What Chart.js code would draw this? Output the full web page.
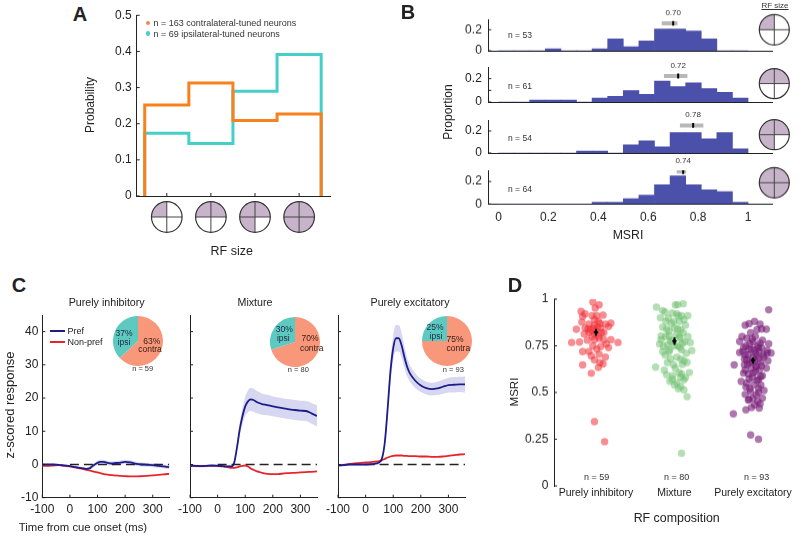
<!DOCTYPE html>
<html>
<head>
<meta charset="utf-8">
<title>RF size and MSRI</title>
<script src="https://cdn.jsdelivr.net/npm/chart.js@4.4.1/dist/chart.umd.min.js"></script>
<style>
  body { margin: 0; width: 800px; height: 536px; position: relative; overflow: hidden; background: #fff;
         font-family: "Liberation Sans", Arial, sans-serif; color: #222; }
  canvas { position: absolute; z-index: 1; }
  .t { position: absolute; white-space: nowrap; line-height: 1; z-index: 5; }
  .mk { position: absolute; z-index: 5; }
</style>
</head>
<body>
<script>
// ---- panel A: RF size histogram
const rfQuads = [[1,0,0,0], [1,1,0,0], [1,1,1,0], [1,1,1,1]]; // TL, TR, BL, BR
const contraCounts = [41, 51, 34, 37];
const ipsiCounts = [12, 10, 20, 27];
const contraN = 163, ipsiN = 69;
const aTicksY = [0, 0.1, 0.2, 0.3, 0.4, 0.5];

// ---- panel B: MSRI histograms per RF size (bins of 1/16)
const bN = [53, 61, 54, 64];
const bCounts1 = [0,0,0,1,0,0,1,6,2,5,11,11,10,6,0,0];
const bCounts2 = [0,0,1,1,1,0,2,3,6,4,11,8,10,7,5,2];
const bCounts3 = [0,0,0,0,0,1,1,0,4,6,3,10,10,7,10,2];
const bCounts4 = [0,0,0,0,0,0,1,1,3,5,11,16,11,8,7,1];
const bMedian = [0.70, 0.72, 0.78, 0.74];
const bCiLo = [0.654, 0.663, 0.727, 0.714];
const bCiHi = [0.717, 0.757, 0.821, 0.752];
const bTicksX = [0, 0.2, 0.4, 0.6, 0.8, 1];

// ---- panel C: z-scored responses
const cTime = [-100,-80,-60,-40,-20,0,20,40,50,60,70,80,90,100,110,120,130,140,150,160,180,200,220,240,260,280,300,320,340,360];
const inhPref = [0,0,0,-0.1,-0.3,-0.5,-0.8,-1.1,-1.2,-1.3,-1.2,-0.6,0,0.5,0.8,0.8,0.6,0.4,0.3,0.4,0.5,0.8,0.6,0.2,0,-0.1,-0.2,-0.4,-0.6,-0.8];
const inhSem  = [0.3,0.3,0.3,0.3,0.3,0.3,0.3,0.4,0.4,0.4,0.5,0.5,0.6,0.6,0.6,0.6,0.6,0.6,0.6,0.6,0.6,0.6,0.6,0.6,0.6,0.6,0.6,0.6,0.6,0.6];
const inhNon  = [-0.4,-0.4,-0.3,-0.2,-0.4,-0.6,-0.9,-1.2,-1.4,-1.6,-1.8,-2.0,-2.2,-2.4,-2.6,-2.8,-3.0,-3.1,-3.2,-3.3,-3.4,-3.5,-3.6,-3.6,-3.5,-3.4,-3.3,-3.1,-3.0,-2.8];
const mixPref = [-0.3,-0.4,-0.5,-0.4,-0.3,-0.4,-0.5,-0.6,-0.6,0.5,5,10.5,14.5,17.5,19,19.6,19.4,18.9,18.5,18.2,17.9,17.5,17.2,16.9,16.6,16.4,16.2,16.1,15.4,14.6];
const mixSem  = [0.4,0.4,0.4,0.4,0.4,0.4,0.4,0.4,0.5,0.8,1.2,1.8,2.4,2.9,3.3,3.5,3.5,3.4,3.3,3.2,3.1,3.0,3.0,3.0,3.0,3.0,3.0,3.0,3.1,3.2];
const mixNon  = [-0.5,-0.5,-0.5,-0.4,-0.4,-0.4,-0.6,-0.9,-1.0,-1.0,-0.9,-0.6,-0.4,-0.3,-0.6,-1.2,-1.6,-2.0,-2.2,-2.5,-2.8,-2.9,-2.9,-2.7,-2.6,-2.5,-2.4,-2.3,-2.2,-2.1];
const excPref = [-0.3,-0.2,0,0,0,0,0.1,0.3,0.7,2,7,17,28,35,38,38,36,32.5,29.5,27.5,25.2,23.8,23.0,22.7,22.9,23.4,23.9,24.0,24.1,24.1];
const excSem  = [0.4,0.4,0.4,0.4,0.4,0.4,0.4,0.4,0.5,0.8,1.5,2.5,3.2,3.8,4.0,4.0,3.8,3.3,2.8,2.5,2.2,2.0,1.9,1.9,2.0,2.1,2.2,2.3,2.3,2.4];
const excNon  = [-0.3,-0.1,0.1,0.3,0.5,0.6,0.7,0.9,1.0,1.3,1.7,2.1,2.4,2.6,2.7,2.7,2.7,2.6,2.6,2.5,2.5,2.4,2.4,2.3,2.3,2.4,2.6,2.8,3.0,3.1];
const zeroLine = [0, 360];
const cTicksX = [-100, 0, 100, 200, 300];
const cTicksY = [-10, 0, 10, 20, 30, 40];
const cIpsi = [37, 30, 25];
const cContra = [63, 70, 75];
const cN = [59, 80, 93];
const cTitles = ['Purely inhibitory', 'Mixture', 'Purely excitatory'];

// ---- panel D: MSRI by RF composition (jitter is x offset within group)
const dGroups = ['Purely inhibitory', 'Mixture', 'Purely excitatory'];
const dN = [59, 80, 93];
const inhMsri = [0.984,0.969,0.952,0.934,0.921,0.907,0.911,0.911,0.914,0.877,0.866,0.880,0.866,0.871,0.853,0.839,0.845,0.836,0.845,0.845,0.813,0.821,0.814,0.821,0.803,0.782,0.782,0.782,0.768,0.768,0.746,0.732,0.719,0.705,0.696,0.675,0.653,0.648,0.634,0.603,0.344,0.237,
  0.86,0.85,0.83,0.80,0.79,0.82,0.84,0.78,0.76,0.75,0.87,0.89,0.74,0.77,0.69,0.66,0.72];
const inhJit = [-0.04,0.04,-0.01,-0.19,-0.14,-0.17,-0.05,0.01,0.09,-0.18,-0.09,0.03,0.12,0.19,0.16,-0.25,-0.14,-0.07,-0.03,0.06,-0.15,-0.09,-0.02,0.10,0.03,-0.02,0.10,0.19,0.28,-0.31,0.06,0.01,-0.17,0.04,-0.06,-0.02,0.09,-0.17,0.03,-0.06,-0.02,0.11,
  -0.02,0.02,0.00,-0.05,0.04,0.07,-0.10,-0.11,0.13,-0.04,0.05,-0.02,0.16,-0.21,0.12,0.05,-0.09];
const mixMsri = [0.957,0.939,0.969,0.975,0.925,0.921,0.911,0.911,0.898,0.880,0.880,0.880,0.839,0.845,0.836,0.803,0.803,0.800,0.800,0.782,0.773,0.768,0.746,0.755,0.750,0.764,0.719,0.719,0.728,0.725,0.679,0.661,0.648,0.636,0.607,0.607,0.595,0.582,0.571,0.568,0.553,0.532,0.514,0.478,0.175,
  0.93,0.91,0.90,0.89,0.87,0.86,0.85,0.84,0.83,0.82,0.81,0.80,0.79,0.78,0.77,0.76,0.75,0.74,0.73,0.71,0.70,0.69,0.68,0.67,0.66,0.65,0.63,0.62,0.60,0.59,0.58,0.56,0.54,0.52,0.97];
const mixJit = [-0.23,-0.15,0.01,0.11,-0.03,0.03,0.09,0.17,-0.08,-0.11,-0.01,0.06,-0.10,0,0.08,-0.17,-0.07,0.06,0.17,-0.17,-0.05,0.20,-0.14,-0.09,0.04,0.10,-0.15,-0.07,0.09,0.22,0.08,0.16,-0.01,-0.24,0.06,0.19,-0.10,0.08,-0.03,0.12,0.03,0.08,0.12,0.16,0.09,
  -0.12,0.05,-0.18,0.12,-0.04,0.14,-0.15,0.04,-0.07,0.11,0.02,-0.11,0.07,-0.03,0.13,-0.19,0.00,0.07,-0.06,0.15,-0.12,0.03,-0.05,0.12,-0.09,0.10,0.01,-0.13,0.09,-0.02,0.14,-0.06,0.00,0.05,0.04];
const excMsri = [0.943,0.868,0.866,0.839,0.836,0.800,0.786,0.773,0.764,0.761,0.741,0.732,0.728,0.738,0.725,0.711,0.714,0.702,0.696,0.689,0.675,0.666,0.670,0.648,0.648,0.639,0.643,0.604,0.604,0.585,0.573,0.564,0.559,0.541,0.529,0.523,0.511,0.505,0.487,0.470,0.464,0.452,0.434,0.407,0.416,0.386,0.273,0.250,
  0.80,0.79,0.78,0.77,0.76,0.75,0.75,0.74,0.73,0.72,0.72,0.71,0.70,0.70,0.69,0.68,0.68,0.67,0.66,0.66,0.65,0.64,0.63,0.62,0.62,0.61,0.60,0.59,0.58,0.57,0.55,0.54,0.52,0.50,0.49,0.47,0.46,0.44,0.42,0.82,0.84,0.86,0.88,0.71,0.63];
const excJit = [0.20,-0.05,0.09,0.17,0.05,-0.14,-0.01,-0.17,0.09,0.20,-0.12,-0.05,0.02,0.07,0.18,0.23,-0.17,-0.10,0.05,0.14,-0.08,-0.01,0.19,-0.24,-0.11,0.04,0.11,-0.12,0,0.10,-0.05,0.05,-0.15,0.01,-0.09,0.07,0.14,-0.03,0.04,0,-0.05,0.06,0.02,-0.09,0.08,-0.25,-0.03,0.07,
  0.03,-0.08,0.12,0.00,-0.04,0.06,-0.09,0.11,-0.02,0.08,-0.13,0.03,-0.06,0.13,0.00,-0.11,0.07,0.02,-0.04,0.10,-0.07,0.04,-0.02,0.08,-0.10,0.03,-0.06,0.12,-0.01,0.07,-0.08,0.10,-0.04,0.07,-0.10,0.12,-0.06,0.09,-0.02,-0.03,0.11,-0.10,0.02,0.18,0.17];
const dMean = [0.822, 0.775, 0.672];
const dSem = [0.018, 0.02, 0.016];
const dTicksY = [0, 0.25, 0.5, 0.75, 1];

Chart.defaults.font.family = "'Liberation Sans', Arial, sans-serif";
Chart.defaults.font.size = 12;
Chart.defaults.color = '#222';
Chart.defaults.animation = false;
Chart.defaults.responsive = false;
Chart.defaults.plugins.legend.display = false;
Chart.defaults.plugins.tooltip.enabled = false;

// ticks drawn inward like matlab
const inTicks = {
  id: 'inTicks',
  afterDraw(chart, args, opts) {
    const ctx = chart.ctx, a = chart.chartArea;
    ctx.save();
    ctx.strokeStyle = '#222';
    ctx.lineWidth = 1;
    ['x', 'y'].forEach(id => {
      const len = opts[id], s = chart.scales[id];
      if (!len || !s) return;
      s.ticks.forEach(t => {
        const p = s.getPixelForValue(t.value);
        ctx.beginPath();
        if (id === 'x') { ctx.moveTo(p, a.bottom); ctx.lineTo(p, a.bottom - len); }
        else { ctx.moveTo(a.left, p); ctx.lineTo(a.left + len, p); }
        ctx.stroke();
      });
    });
    ctx.restore();
  }
};

function drawIcon(ctx, cx, cy, r, q) {
  const angles = [[Math.PI, 1.5 * Math.PI], [1.5 * Math.PI, 2 * Math.PI], [0.5 * Math.PI, Math.PI], [0, 0.5 * Math.PI]];
  ctx.save();
  ctx.beginPath(); ctx.arc(cx, cy, r, 0, 2 * Math.PI); ctx.fillStyle = '#fff'; ctx.fill();
  q.forEach((on, i) => {
    if (!on) return;
    ctx.beginPath(); ctx.moveTo(cx, cy); ctx.arc(cx, cy, r, angles[i][0], angles[i][1]); ctx.closePath();
    ctx.fillStyle = '#c7b3ca'; ctx.fill();
  });
  ctx.strokeStyle = '#444'; ctx.lineWidth = 1;
  ctx.beginPath(); ctx.moveTo(cx - r, cy); ctx.lineTo(cx + r, cy); ctx.moveTo(cx, cy - r); ctx.lineTo(cx, cy + r); ctx.stroke();
  ctx.strokeStyle = '#333'; ctx.lineWidth = 1.2;
  ctx.beginPath(); ctx.arc(cx, cy, r, 0, 2 * Math.PI); ctx.stroke();
  ctx.restore();
}

const rfIcons = {
  id: 'rfIcons',
  afterDraw(chart, args, o) {
    (o.items || []).forEach(it => {
      const a = chart.chartArea;
      const cx = it.xv !== undefined ? chart.scales.x.getPixelForValue(it.xv) : a.right + it.dx;
      drawIcon(chart.ctx, cx, a.bottom + it.dy, it.r, it.q);
    });
  }
};

const medText = {
  id: 'medText',
  afterDraw(chart, args, o) {
    if (!o.text) return;
    const ctx = chart.ctx;
    ctx.save();
    ctx.font = "8px 'Liberation Sans', Arial, sans-serif";
    ctx.fillStyle = '#333';
    ctx.textAlign = 'center';
    ctx.textBaseline = 'middle';
    ctx.fillText(o.text, chart.scales.x.getPixelForValue(o.x), chart.scales.y.getPixelForValue(o.y) - o.dy);
    ctx.restore();
  }
};
Chart.register(inTicks, rfIcons, medText);

function mk(left, top, w, h) {
  const c = document.createElement('canvas');
  c.width = w; c.height = h;
  c.style.left = left + 'px'; c.style.top = top + 'px';
  c.style.width = w + 'px'; c.style.height = h + 'px';
  document.body.appendChild(c);
  return c;
}
function txt(s, x, y, size, o = {}) {
  const d = document.createElement('div');
  d.className = 't';
  d.textContent = s;
  d.style.left = x + 'px'; d.style.top = y + 'px';
  d.style.fontSize = size + 'px';
  if (o.bold) d.style.fontWeight = 'bold';
  if (o.color) d.style.color = o.color;
  if (o.u) d.style.textDecoration = 'underline';
  d.style.transform = 'translate(' + (o.left ? '0' : '-50%') + ',-50%)' + (o.rot ? ' rotate(-90deg)' : '');
  document.body.appendChild(d);
}
function mark(x, y, w, h, color, round) {
  const d = document.createElement('div');
  d.className = 'mk';
  d.style.cssText += `left:${x}px;top:${y}px;width:${w}px;height:${h}px;background:${color};` + (round ? 'border-radius:50%;' : '');
  document.body.appendChild(d);
}
const setTicks = vals => s => { s.ticks = vals.map(v => ({value: v})); };
const fixW = w => s => { s.width = w; };
const fixH = h => s => { s.height = h; };
const noGrid = {display: false, drawTicks: false};
const axisBorder = {color: '#222', width: 1};

// ---------- A
function stepPoints(vals) {
  const pts = [{x: 0.5, y: 0}];
  vals.forEach((v, i) => { pts.push({x: i + 0.5, y: v}, {x: i + 1.5, y: v}); });
  pts.push({x: vals.length + 0.5, y: 0});
  return pts;
}
new Chart(mk(95, 1, 245, 236), {
  type: 'line',
  data: {datasets: [
    {data: stepPoints(contraCounts.map(c => c / contraN)), borderColor: '#f7801f', borderWidth: 3, pointRadius: 0, clip: false},
    {data: stepPoints(ipsiCounts.map(c => c / ipsiN)), borderColor: '#45d0c7', borderWidth: 3, pointRadius: 0, clip: false}
  ]},
  options: {
    layout: {padding: {top: 14.3, right: 10, left: 0, bottom: 0}},
    scales: {
      x: {type: 'linear', min: 0.318, max: 4.70, afterBuildTicks: setTicks([1, 2, 3, 4]), ticks: {display: false},
          grid: noGrid, border: axisBorder, afterFit: fixH(41)},
      y: {min: 0, max: 0.5, afterBuildTicks: setTicks(aTicksY), ticks: {padding: 5, callback: v => v === 0 ? '0' : v.toFixed(1)},
          grid: noGrid, border: axisBorder, afterFit: fixW(41.7)}
    },
    plugins: {
      inTicks: {x: 3, y: 3},
      rfIcons: {items: rfQuads.map((q, i) => ({xv: i + 1, dy: 21, r: 15.3, q}))}
    }
  }
});
txt('A', 80, 14, 20, {bold: true});
txt('Probability', 90, 105, 12, {rot: true});
txt('RF size', 231.7, 250.7, 12.5);
mark(145.5, 20.5, 4.5, 4.5, '#f5884c', true);
mark(145.5, 31.3, 4.5, 4.5, '#45d0c7', true);
txt('n = ' + contraN + ' contralateral-tuned neurons', 153.5, 22.7, 9, {left: true, color: '#333'});
txt('n = ' + ipsiN + ' ipsilateral-tuned neurons', 153.5, 33.5, 9, {left: true, color: '#333'});

// ---------- B
const bCounts = [bCounts1, bCounts2, bCounts3, bCounts4];
const bTop = [19.3, 66.7, 120.3, 170.4];
const bBottom = [50.7, 101.7, 153.3, 204.3];
const bMarkY = [0.262, 0.223, 0.251, 0.289];
const bIconDy = [-20.7, -18.4, -18.3, -21];
bCounts.forEach((counts, i) => {
  const last = i === 3;
  const cTop = bTop[i] - 15;
  const cBot = last ? 226 : bBottom[i] + 15;
  const my = bMarkY[i];
  new Chart(mk(450, cTop, 345, cBot - cTop), {
    type: 'bar',
    data: {datasets: [
      {type: 'line', data: [{x: bMedian[i], y: my - 0.022}, {x: bMedian[i], y: my + 0.022}], borderColor: '#000', borderWidth: 2, pointRadius: 0},
      {type: 'line', data: [{x: bCiLo[i], y: my}, {x: bCiHi[i], y: my}], borderColor: '#b8b8b8', borderWidth: 4, pointRadius: 0},
      {type: 'bar', data: counts.map((c, k) => ({x: (k + 0.5) / 16, y: c / bN[i]})), backgroundColor: '#4b51aa',
       borderWidth: 0, barPercentage: 1, categoryPercentage: 1}
    ]},
    options: {
      layout: {padding: {top: 15, right: 23, left: 0, bottom: 0}},
      scales: {
        x: {type: 'linear', offset: false, min: -0.041, max: 1.096, afterBuildTicks: setTicks(bTicksX),
            ticks: {display: last, padding: 6.5, callback: v => String(v)},
            grid: noGrid, border: axisBorder, afterFit: fixH(cBot - bBottom[i])},
        y: {min: 0, max: 0.3, afterBuildTicks: setTicks([0, 0.1, 0.2]),
            ticks: {padding: 6.5, callback: v => v === 0 ? '0' : (Math.abs(v - 0.2) < 1e-9 ? '0.2' : '')},
            grid: noGrid, border: axisBorder, afterFit: fixW(38.3)}
      },
      plugins: {
        inTicks: {y: 3},
        medText: {text: bMedian[i].toFixed(2), x: bMedian[i], y: my, dy: 10.5},
        rfIcons: {items: [{dx: 2.3, dy: bIconDy[i], r: 15, q: rfQuads[i]}]}
      }
    }
  });
  txt('n = ' + bN[i], 508, bBottom[i] - 15.8, 8.5, {left: true, color: '#333'});
});
txt('B', 408, 12, 20, {bold: true});
txt('RF size', 775, 6, 8, {u: true, color: '#333'});
txt('Proportion', 448, 112, 12, {rot: true});
txt('MSRI', 628, 235, 12.3);

// ---------- C
const cPanels = [
  {pref: inhPref, sem: inhSem, non: inhNon},
  {pref: mixPref, sem: mixSem, non: mixNon},
  {pref: excPref, sem: excSem, non: excNon}
];
const cLeft = [0, 150, 298.3];
const cAxisW = [42.3, 40, 40];
const cTitleX = [106.7, 255, 410];
const pieC = [[138.3, 341], [295.3, 341.5], [447, 340.8]];
cPanels.forEach((p, i) => {
  const pts = arr => arr.map((v, k) => ({x: cTime[k], y: v}));
  const band = 'rgba(140,140,215,0.35)';
  new Chart(mk(cLeft[i], 303, 175, 225), {
    type: 'line',
    data: {datasets: [
      {data: pts(p.pref), borderColor: '#1c1c8a', borderWidth: 1.8, pointRadius: 0, cubicInterpolationMode: 'monotone'},
      {data: pts(p.non), borderColor: '#e8232b', borderWidth: 1.8, pointRadius: 0, cubicInterpolationMode: 'monotone'},
      {data: zeroLine.map(x => ({x, y: 0})), borderColor: '#222', borderDash: [9, 5], borderWidth: 1.3, pointRadius: 0},
      {data: p.pref.map((v, k) => ({x: cTime[k], y: v + p.sem[k]})), borderColor: 'rgba(0,0,0,0)', borderWidth: 0, pointRadius: 0,
       fill: '+1', backgroundColor: band, cubicInterpolationMode: 'monotone'},
      {data: p.pref.map((v, k) => ({x: cTime[k], y: v - p.sem[k]})), borderColor: 'rgba(0,0,0,0)', borderWidth: 0, pointRadius: 0,
       fill: false, cubicInterpolationMode: 'monotone'}
    ]},
    options: {
      layout: {padding: {top: 12, right: 175 - cAxisW[i] - 127, left: 0, bottom: 0}},
      scales: {
        x: {type: 'linear', min: -100, max: 360, afterBuildTicks: setTicks(cTicksX), ticks: {padding: 5},
            grid: noGrid, border: axisBorder, afterFit: fixH(30.3)},
        y: {min: -10, max: 45, afterBuildTicks: setTicks(cTicksY), ticks: {display: i === 0, padding: 4},
            grid: noGrid, border: axisBorder, afterFit: fixW(cAxisW[i])}
      },
      plugins: {inTicks: {x: 3, y: 3}}
    }
  });
  txt(cTitles[i], cTitleX[i], 302.3, 10.7);
});
// pies on top of the line panels
const pieText = [
  [[124, 333.3], [124, 341.7], [151.7, 341], [150, 349], [142.7, 369.3]],
  [[284.3, 329.3], [283.3, 337.7], [310, 338.3], [311.7, 347.5], [298.3, 370]],
  [[435, 326.7], [436, 335.7], [455, 339.3], [458.3, 347.5], [453.3, 370]]
];
pieC.forEach((c, i) => {
  new Chart(mk(c[0] - 25, c[1] - 25, 50, 50), {
    type: 'pie',
    data: {labels: ['contra', 'ipsi'], datasets: [{data: [cContra[i], cIpsi[i]], backgroundColor: ['#f9977a', '#5dc9c1'], borderWidth: 0}]},
    options: {layout: {padding: 0}}
  });
  const pt = pieText[i];
  txt(cIpsi[i] + '%', pt[0][0], pt[0][1], 8.5, {color: '#1b2a40'});
  txt('ipsi', pt[1][0], pt[1][1], 8.5, {color: '#1b2a40'});
  txt(cContra[i] + '%', pt[2][0], pt[2][1], 8.5, {color: '#3a2018'});
  txt('contra', pt[3][0], pt[3][1], 8.5, {color: '#3a2018'});
  txt('n = ' + cN[i], pt[4][0], pt[4][1], 7.5, {color: '#333'});
});
txt('C', 19, 285, 20, {bold: true});
txt('z-scored response', 8.5, 405, 13, {rot: true});
txt('Time from cue onset (ms)', 83, 528, 11.3);
mark(50, 330, 15, 2, '#1c1c8a');
mark(50, 341, 15, 2, '#e8232b');
txt('Pref', 67.5, 331, 9, {left: true});
txt('Non-pref', 67.5, 342, 9, {left: true});

// ---------- D
const strip = (ys, js, g) => ys.map((y, k) => ({x: g + js[k], y}));
const dSets = [
  ...dMean.map((m, i) => ({type: 'line', showLine: true, data: [{x: i + 1, y: m - dSem[i]}, {x: i + 1, y: m + dSem[i]}],
                           borderColor: '#000', borderWidth: 2, pointRadius: 0})),
  {data: dMean.map((m, i) => ({x: i + 1, y: m})), pointStyle: 'rectRot', pointRadius: 2.6, backgroundColor: '#000', borderWidth: 0},
  {data: strip(inhMsri, inhJit, 1), pointRadius: 3.7, backgroundColor: 'rgba(240,45,55,0.55)', borderWidth: 0},
  {data: strip(mixMsri, mixJit, 2), pointRadius: 3.7, backgroundColor: 'rgba(105,190,105,0.5)', borderWidth: 0},
  {data: strip(excMsri, excJit, 3), pointRadius: 3.7, backgroundColor: 'rgba(118,28,118,0.6)', borderWidth: 0}
];
new Chart(mk(515, 285.3, 285, 216.7), {
  type: 'scatter',
  data: {datasets: dSets},
  options: {
    layout: {padding: {top: 14, right: 5, left: 0, bottom: 0}},
    scales: {
      x: {type: 'linear', min: 0.465, max: 3.535, afterBuildTicks: setTicks([1, 2, 3]),
          ticks: {padding: 1, font: {size: 10.5}, callback: (v, k) => dGroups[k]},
          grid: noGrid, border: {display: false}, afterFit: fixH(16)},
      y: {min: 0, max: 1, afterBuildTicks: setTicks(dTicksY), ticks: {padding: 5.7, callback: v => String(v)},
          grid: noGrid, border: axisBorder, afterFit: fixW(39)}
    },
    plugins: {inTicks: {y: 3}}
  }
});
const dNX = [596.7, 676.7, 756.7];
dN.forEach((n, i) => txt('n = ' + n, dNX[i], 477.3, 9, {color: '#333'}));
txt('D', 515, 285, 20, {bold: true});
txt('MSRI', 515, 392, 11.5, {rot: true});
txt('RF composition', 676.7, 518.3, 12.4);
</script>
</body>
</html>
